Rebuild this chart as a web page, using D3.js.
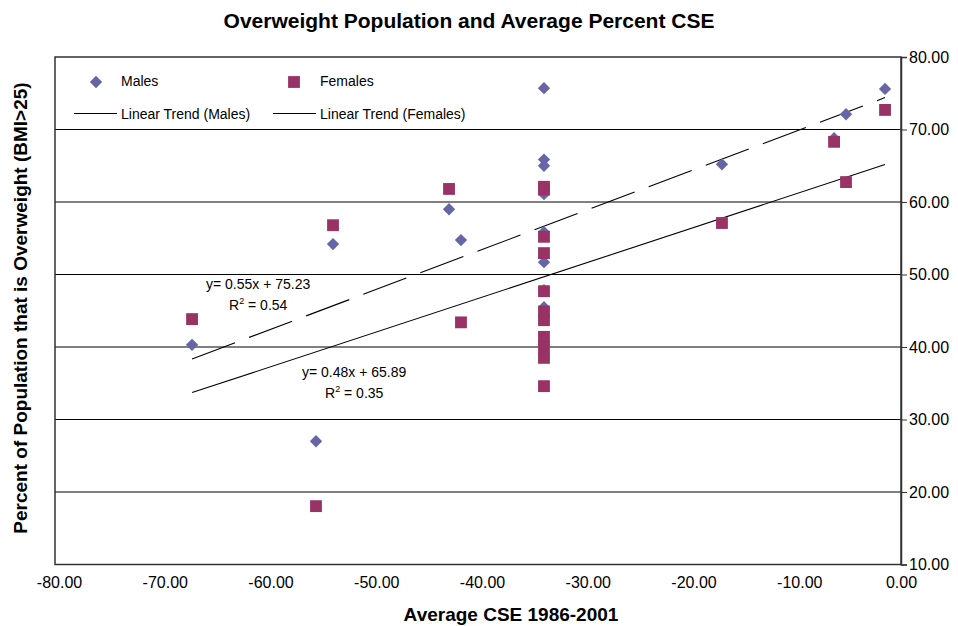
<!DOCTYPE html>
<html>
<head>
<meta charset="utf-8">
<script src="https://cdn.jsdelivr.net/npm/d3@7"></script>
<style>
  html, body { margin: 0; padding: 0; background: #fff; }
  svg { display: block; font-family: "Liberation Sans", Arial, Helvetica, sans-serif; }
</style>
</head>
<body>
<svg id="chart" width="958" height="626"></svg>
<script>
// Average CSE (x) against share of population overweight (y), by sex
const maleCSE = [-67.04, -55.32, -53.71, -42.74, -41.61,
  -33.76, -33.76, -33.76, -33.76, -33.76, -33.76, -33.76, -33.76,
  -16.93, -6.33, -5.2, -1.51];
const maleOverweight = [40.3, 27.0, 54.2, 59.0, 54.75,
  75.7, 65.85, 65.0, 61.1, 55.85, 51.7, 47.85, 45.5,
  65.2, 68.8, 72.1, 75.6];

const femaleCSE = [-67.04, -55.32, -53.71, -42.74, -41.61,
  -33.76, -33.76, -33.76, -33.76, -33.76, -33.76, -33.76, -33.76, -33.76, -33.76, -33.76,
  -16.93, -6.33, -5.2, -1.51];
const femaleOverweight = [43.85, 18.05, 56.8, 61.8, 43.4,
  62.1, 61.7, 55.2, 52.95, 47.7, 44.9, 43.7, 41.4, 40.0, 38.5, 34.6,
  57.1, 68.3, 62.75, 72.7];

// Linear trend coefficients [slope, intercept] and fit quality
const maleTrend = [0.55, 75.23];
const femaleTrend = [0.48, 65.89];
const maleR2 = "0.54";
const femaleR2 = "0.35";

const xTicks = [-80, -70, -60, -50, -40, -30, -20, -10, 0];
const yTicks = [10, 20, 30, 40, 50, 60, 70, 80];

const svg = d3.select("#chart");
const plotL = 55, plotR = 901, plotT = 57, plotB = 564.5;

const x = d3.scaleLinear().domain([-80, 0]).range([plotL, plotR]);
const y = d3.scaleLinear().domain([10, 80]).range([plotB, plotT]);

const MALE = "#6666a6", FEMALE = "#993366";

// Plain hyphen for negative numbers
const locale = d3.formatLocale({ decimal: ".", thousands: ",", grouping: [3], currency: ["", ""], minus: "-" });
const fmt = locale.format(".2f");

// Title
svg.append("text")
  .attr("x", 469).attr("y", 28)
  .attr("text-anchor", "middle")
  .attr("font-size", 21).attr("font-weight", "bold")
  .text("Overweight Population and Average Percent CSE");

// Horizontal gridlines
svg.append("g").selectAll("line")
  .data(yTicks.filter(t => t > 10 && t < 80))
  .join("line")
  .attr("x1", plotL).attr("x2", plotR)
  .attr("y1", d => y(d)).attr("y2", d => y(d))
  .attr("stroke", "#000").attr("stroke-width", 1);

// Plot frame
svg.append("rect")
  .attr("x", plotL).attr("y", plotT)
  .attr("width", plotR - plotL).attr("height", plotB - plotT)
  .attr("fill", "none").attr("stroke", "#333").attr("stroke-width", 1.5);

// Right-hand value axis
const yAxis = d3.axisRight(y).tickValues(yTicks).tickSize(6).tickPadding(2)
  .tickFormat(fmt);
const yg = svg.append("g").attr("transform", `translate(${plotR},0)`).call(yAxis);
yg.select(".domain").attr("stroke", "#333").attr("stroke-width", 1.5);
yg.selectAll(".tick line").attr("stroke", "#333");
yg.selectAll(".tick text")
  .attr("font-size", 16).attr("font-family", "Liberation Sans, Arial, sans-serif")
  .attr("fill", "#000");

// Bottom category axis (labels only)
const xAxis = d3.axisBottom(x).tickValues(xTicks).tickSize(0).tickPadding(12)
  .tickFormat(fmt);
const xg = svg.append("g").attr("transform", `translate(0,${plotB})`).call(xAxis);
xg.select(".domain").remove();
xg.selectAll(".tick text")
  .attr("font-size", 16).attr("font-family", "Liberation Sans, Arial, sans-serif")
  .attr("fill", "#000")
  .attr("dx", d => d < 0 ? 4 : 0);

// Axis titles
svg.append("text")
  .attr("x", 511).attr("y", 621)
  .attr("text-anchor", "middle")
  .attr("font-size", 19).attr("font-weight", "bold")
  .text("Average CSE 1986-2001");

svg.append("text")
  .attr("transform", "translate(27,308) rotate(-90)")
  .attr("text-anchor", "middle")
  .attr("font-size", 19).attr("font-weight", "bold")
  .text("Percent of Population that is Overweight (BMI>25)");

// Trend lines over the observed CSE range
const maleExtent = d3.extent(maleCSE);
const femaleExtent = d3.extent(femaleCSE);
const trendLine = d3.line().x(d => x(d[0])).y(d => y(d[1]));

svg.append("path")
  .datum(maleExtent.map(v => [v, maleTrend[0] * v + maleTrend[1]]))
  .attr("d", trendLine)
  .attr("fill", "none").attr("stroke", "#000").attr("stroke-width", 1.1)
  .attr("stroke-dasharray", "46,15");

svg.append("path")
  .datum(femaleExtent.map(v => [v, femaleTrend[0] * v + femaleTrend[1]]))
  .attr("d", trendLine)
  .attr("fill", "none").attr("stroke", "#000").attr("stroke-width", 1.1);

// Markers
const diamond = d3.symbol().type(d3.symbolSquare).size(76);
const square = d3.symbol().type(d3.symbolSquare).size(140);

svg.append("g").selectAll("path")
  .data(d3.zip(maleCSE, maleOverweight))
  .join("path")
  .attr("d", diamond)
  .attr("transform", d => `translate(${x(d[0])},${y(d[1])}) rotate(45)`)
  .attr("fill", MALE);

svg.append("g").selectAll("path")
  .data(d3.zip(femaleCSE, femaleOverweight))
  .join("path")
  .attr("d", square)
  .attr("transform", d => `translate(${x(d[0])},${y(d[1])})`)
  .attr("fill", FEMALE);

// Trend equations
function equation(trend, r2, ex, ey) {
  svg.append("text").attr("x", ex).attr("y", ey).attr("font-size", 14)
    .text(`y= ${fmt(trend[0])}x + ${fmt(trend[1])}`);
  const t = svg.append("text").attr("x", ex + 23).attr("y", ey + 21).attr("font-size", 14);
  t.append("tspan").text("R");
  t.append("tspan").attr("font-size", 9).attr("dy", -6).text("2");
  t.append("tspan").attr("dy", 6).text(` = ${r2}`);
}
equation(maleTrend, maleR2, 206, 289);
equation(femaleTrend, femaleR2, 302, 377);

// Legend
const legend = svg.append("g").attr("font-size", 14);
legend.append("path").attr("d", diamond)
  .attr("transform", "translate(96,82) rotate(45)").attr("fill", MALE);
legend.append("text").attr("x", 121).attr("y", 86).text("Males");
legend.append("path").attr("d", square)
  .attr("transform", "translate(294,82)").attr("fill", FEMALE);
legend.append("text").attr("x", 320).attr("y", 86).text("Females");
legend.append("line").attr("x1", 74).attr("x2", 117).attr("y1", 113.5).attr("y2", 113.5)
  .attr("stroke", "#000").attr("stroke-width", 1.1);
legend.append("text").attr("x", 121).attr("y", 119).text("Linear Trend (Males)");
legend.append("line").attr("x1", 273).attr("x2", 316).attr("y1", 113.5).attr("y2", 113.5)
  .attr("stroke", "#000").attr("stroke-width", 1.1);
legend.append("text").attr("x", 320).attr("y", 119).text("Linear Trend (Females)");
</script>
</body>
</html>
